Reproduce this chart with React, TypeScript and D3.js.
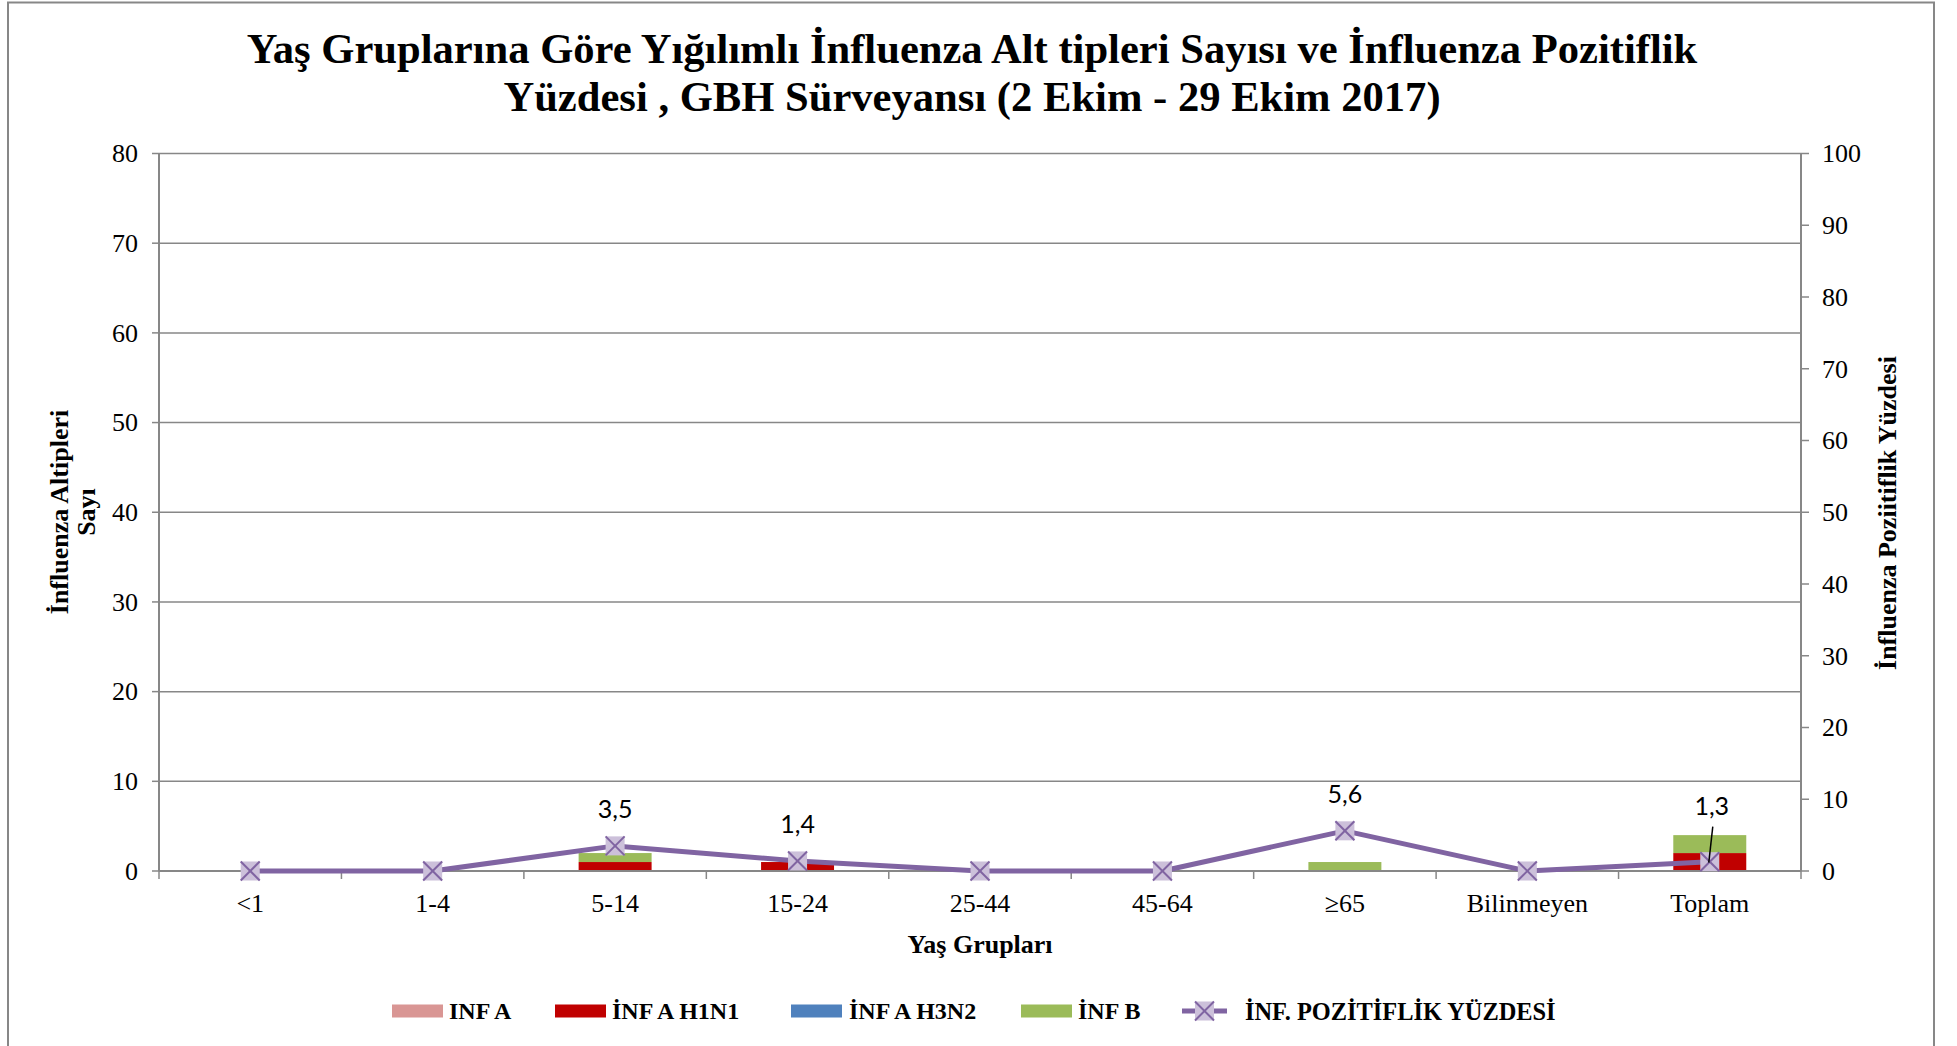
import React from "react";
import * as d3 from "d3";

const categories = ["<1", "1-4", "5-14", "15-24", "25-44", "45-64", "≥65", "Bilinmeyen", "Toplam"];
const infA = [0, 0, 0, 0, 0, 0, 0, 0, 0];
const infAH1N1 = [0, 0, 1, 1, 0, 0, 0, 0, 2];
const infAH3N2 = [0, 0, 0, 0, 0, 0, 0, 0, 0];
const infB = [0, 0, 1, 0, 0, 0, 1, 0, 2];
const positivity = [0, 0, 3.5, 1.4, 0, 0, 5.6, 0, 1.3];
const positivityLabels = ["", "", "3,5", "1,4", "", "", "5,6", "", "1,3"];
const leftTicks = [0, 10, 20, 30, 40, 50, 60, 70, 80];
const rightTicks = [0, 10, 20, 30, 40, 50, 60, 70, 80, 90, 100];

const seriesKeys = ["infA", "h1n1", "h3n2", "infB"];
const seriesNames = ["INF A", "İNF A H1N1", "İNF A H3N2", "İNF B"];
const seriesColors = ["#d99694", "#c00000", "#4f81bd", "#9bbb59"];

const serif = "'Liberation Serif', 'Times New Roman', serif";
const sans = "Lato, 'Open Sans', sans-serif";
const gray = "#878787";
const lineColor = "#8064a2";
const markerFill = "#ccc0da";

export default function App() {
  const W = 1957, H = 1046;
  const L = 159, R = 1801, T = 153.5, B = 871;
  const x = d3.scaleBand<string>().domain(categories).range([L, R]).padding(0);
  const bw = x.bandwidth();
  const yL = d3.scaleLinear().domain([0, 80]).range([B, T]);
  const yR = d3.scaleLinear().domain([0, 100]).range([B, T]);

  const rows = categories.map((c, i) => ({
    cat: c, infA: infA[i], h1n1: infAH1N1[i], h3n2: infAH3N2[i], infB: infB[i],
  }));
  const stacked = d3.stack<any>().keys(seriesKeys)(rows);

  const cx = (c: string) => (x(c) as number) + bw / 2;
  const linePts: [number, number][] = categories.map((c, i) => [cx(c), yR(positivity[i])]);
  const linePath = d3.line()(linePts) as string;

  const ms = 19;
  const Marker = ({ px, py }: { px: number; py: number }) => (
    <g>
      <rect x={px - ms / 2} y={py - ms / 2} width={ms} height={ms} fill={markerFill} />
      <line x1={px - ms / 2} y1={py - ms / 2} x2={px + ms / 2} y2={py + ms / 2} stroke={lineColor} strokeWidth={2} />
      <line x1={px - ms / 2} y1={py + ms / 2} x2={px + ms / 2} y2={py - ms / 2} stroke={lineColor} strokeWidth={2} />
    </g>
  );

  const boundaries = categories.map((c) => x(c) as number).concat([R]);
  const lastIdx = categories.length - 1;

  const legendY = 1011;
  const legendItems = [
    { sx: 392, tx: 449 },
    { sx: 555, tx: 612 },
    { sx: 791, tx: 849 },
    { sx: 1021, tx: 1078 },
  ];

  return (
    <svg width={W} height={H} style={{ position: "absolute", left: 0, top: 0, background: "#fff" }}>
      <rect x={0} y={0} width={W} height={H} fill="#fff" />
      <rect x={8} y={2.5} width={1926} height={1060} fill="none" stroke={gray} strokeWidth={2} />

      {/* Title */}
      <text x={972} y={63} textAnchor="middle" fontFamily={serif} fontWeight="bold" fontSize={42.6} fill="#000">
        Yaş Gruplarına Göre Yığılımlı İnfluenza Alt tipleri Sayısı ve İnfluenza Pozitiflik
      </text>
      <text x={972} y={111} textAnchor="middle" fontFamily={serif} fontWeight="bold" fontSize={42.6} fill="#000">
        Yüzdesi , GBH Sürveyansı (2 Ekim - 29 Ekim 2017)
      </text>

      {/* gridlines */}
      {leftTicks.filter((t) => t > 0).map((t) => (
        <line key={"g" + t} x1={L} x2={R} y1={yL(t)} y2={yL(t)} stroke={gray} strokeWidth={1.5} />
      ))}

      {/* left axis */}
      <line x1={L} x2={L} y1={T} y2={B} stroke={gray} strokeWidth={2} />
      {leftTicks.map((t) => (
        <g key={"lt" + t}>
          <line x1={L - 7} x2={L} y1={yL(t)} y2={yL(t)} stroke={gray} strokeWidth={1.5} />
          <text x={138} y={yL(t)} dy="0.34em" textAnchor="end" fontFamily={serif} fontSize={26} fill="#000">{t}</text>
        </g>
      ))}

      {/* right axis */}
      <line x1={R} x2={R} y1={T} y2={B} stroke={gray} strokeWidth={2} />
      {rightTicks.map((t) => (
        <g key={"rt" + t}>
          <line x1={R} x2={R + 8} y1={yR(t)} y2={yR(t)} stroke={gray} strokeWidth={1.5} />
          <text x={1822} y={yR(t)} dy="0.34em" textAnchor="start" fontFamily={serif} fontSize={26} fill="#000">{t}</text>
        </g>
      ))}

      {/* bars */}
      {stacked.map((s, si) => (
        <g key={"s" + si} fill={seriesColors[si]}>
          {s.map((d, i) => {
            const h = yL(d[0]) - yL(d[1]);
            if (h <= 0) return null;
            return (
              <rect key={i} x={(x(categories[i]) as number) + bw * 0.3} width={bw * 0.4} y={yL(d[1])} height={h} />
            );
          })}
        </g>
      ))}

      {/* x axis */}
      <line x1={L} x2={R} y1={B} y2={B} stroke={gray} strokeWidth={2} />
      {boundaries.map((bx, i) => (
        <line key={"xt" + i} x1={bx} x2={bx} y1={B} y2={B + 8} stroke={gray} strokeWidth={1.5} />
      ))}
      {categories.map((c) => (
        <text key={"xl" + c} x={cx(c)} y={912} textAnchor="middle" fontFamily={serif} fontSize={26} fill="#000">{c}</text>
      ))}

      {/* line */}
      <path d={linePath} fill="none" stroke={lineColor} strokeWidth={5} strokeLinejoin="round" />
      {linePts.map((p, i) => <Marker key={"m" + i} px={p[0]} py={p[1]} />)}

      {/* data labels */}
      {categories.map((c, i) => {
        if (!positivityLabels[i]) return null;
        const py = yR(positivity[i]);
        const off = i === lastIdx ? 47 : 28;
        return (
          <text key={"dl" + i} x={cx(c) + (i === lastIdx ? 2 : 0)} y={py - off} textAnchor="middle" fontFamily={sans} fontSize={25} fill="#000">
            {positivityLabels[i]}
          </text>
        );
      })}
      <line x1={cx(categories[lastIdx]) + 3} y1={yR(positivity[lastIdx]) - 35} x2={cx(categories[lastIdx]) - 1} y2={yR(positivity[lastIdx]) + 1} stroke="#000" strokeWidth={1.5} />

      {/* axis titles */}
      <text transform="translate(68,512) rotate(-90)" textAnchor="middle" fontFamily={serif} fontWeight="bold" fontSize={26} fill="#000">İnfluenza Altipleri</text>
      <text transform="translate(95,512) rotate(-90)" textAnchor="middle" fontFamily={serif} fontWeight="bold" fontSize={26} fill="#000">Sayı</text>
      <text transform="translate(1896,513) rotate(-90)" textAnchor="middle" fontFamily={serif} fontWeight="bold" fontSize={26} fill="#000">İnfluenza Poziitiflik Yüzdesi</text>
      <text x={980} y={953} textAnchor="middle" fontFamily={serif} fontWeight="bold" fontSize={26} fill="#000">Yaş Grupları</text>

      {/* legend */}
      {legendItems.map((it, i) => (
        <g key={"lg" + i}>
          <rect x={it.sx} y={legendY - 6.5} width={51} height={13} fill={seriesColors[i]} />
          <text x={it.tx} y={legendY} dy="0.35em" fontFamily={serif} fontWeight="bold" fontSize={24} fill="#000">{seriesNames[i]}</text>
        </g>
      ))}
      <g>
        <line x1={1182} x2={1227} y1={legendY} y2={legendY} stroke={lineColor} strokeWidth={5} />
        <Marker px={1204.5} py={legendY} />
        <text x={1245} y={legendY} dy="0.35em" fontFamily={serif} fontWeight="bold" fontSize={24.4} fill="#000">İNF. POZİTİFLİK YÜZDESİ</text>
      </g>
    </svg>
  );
}
